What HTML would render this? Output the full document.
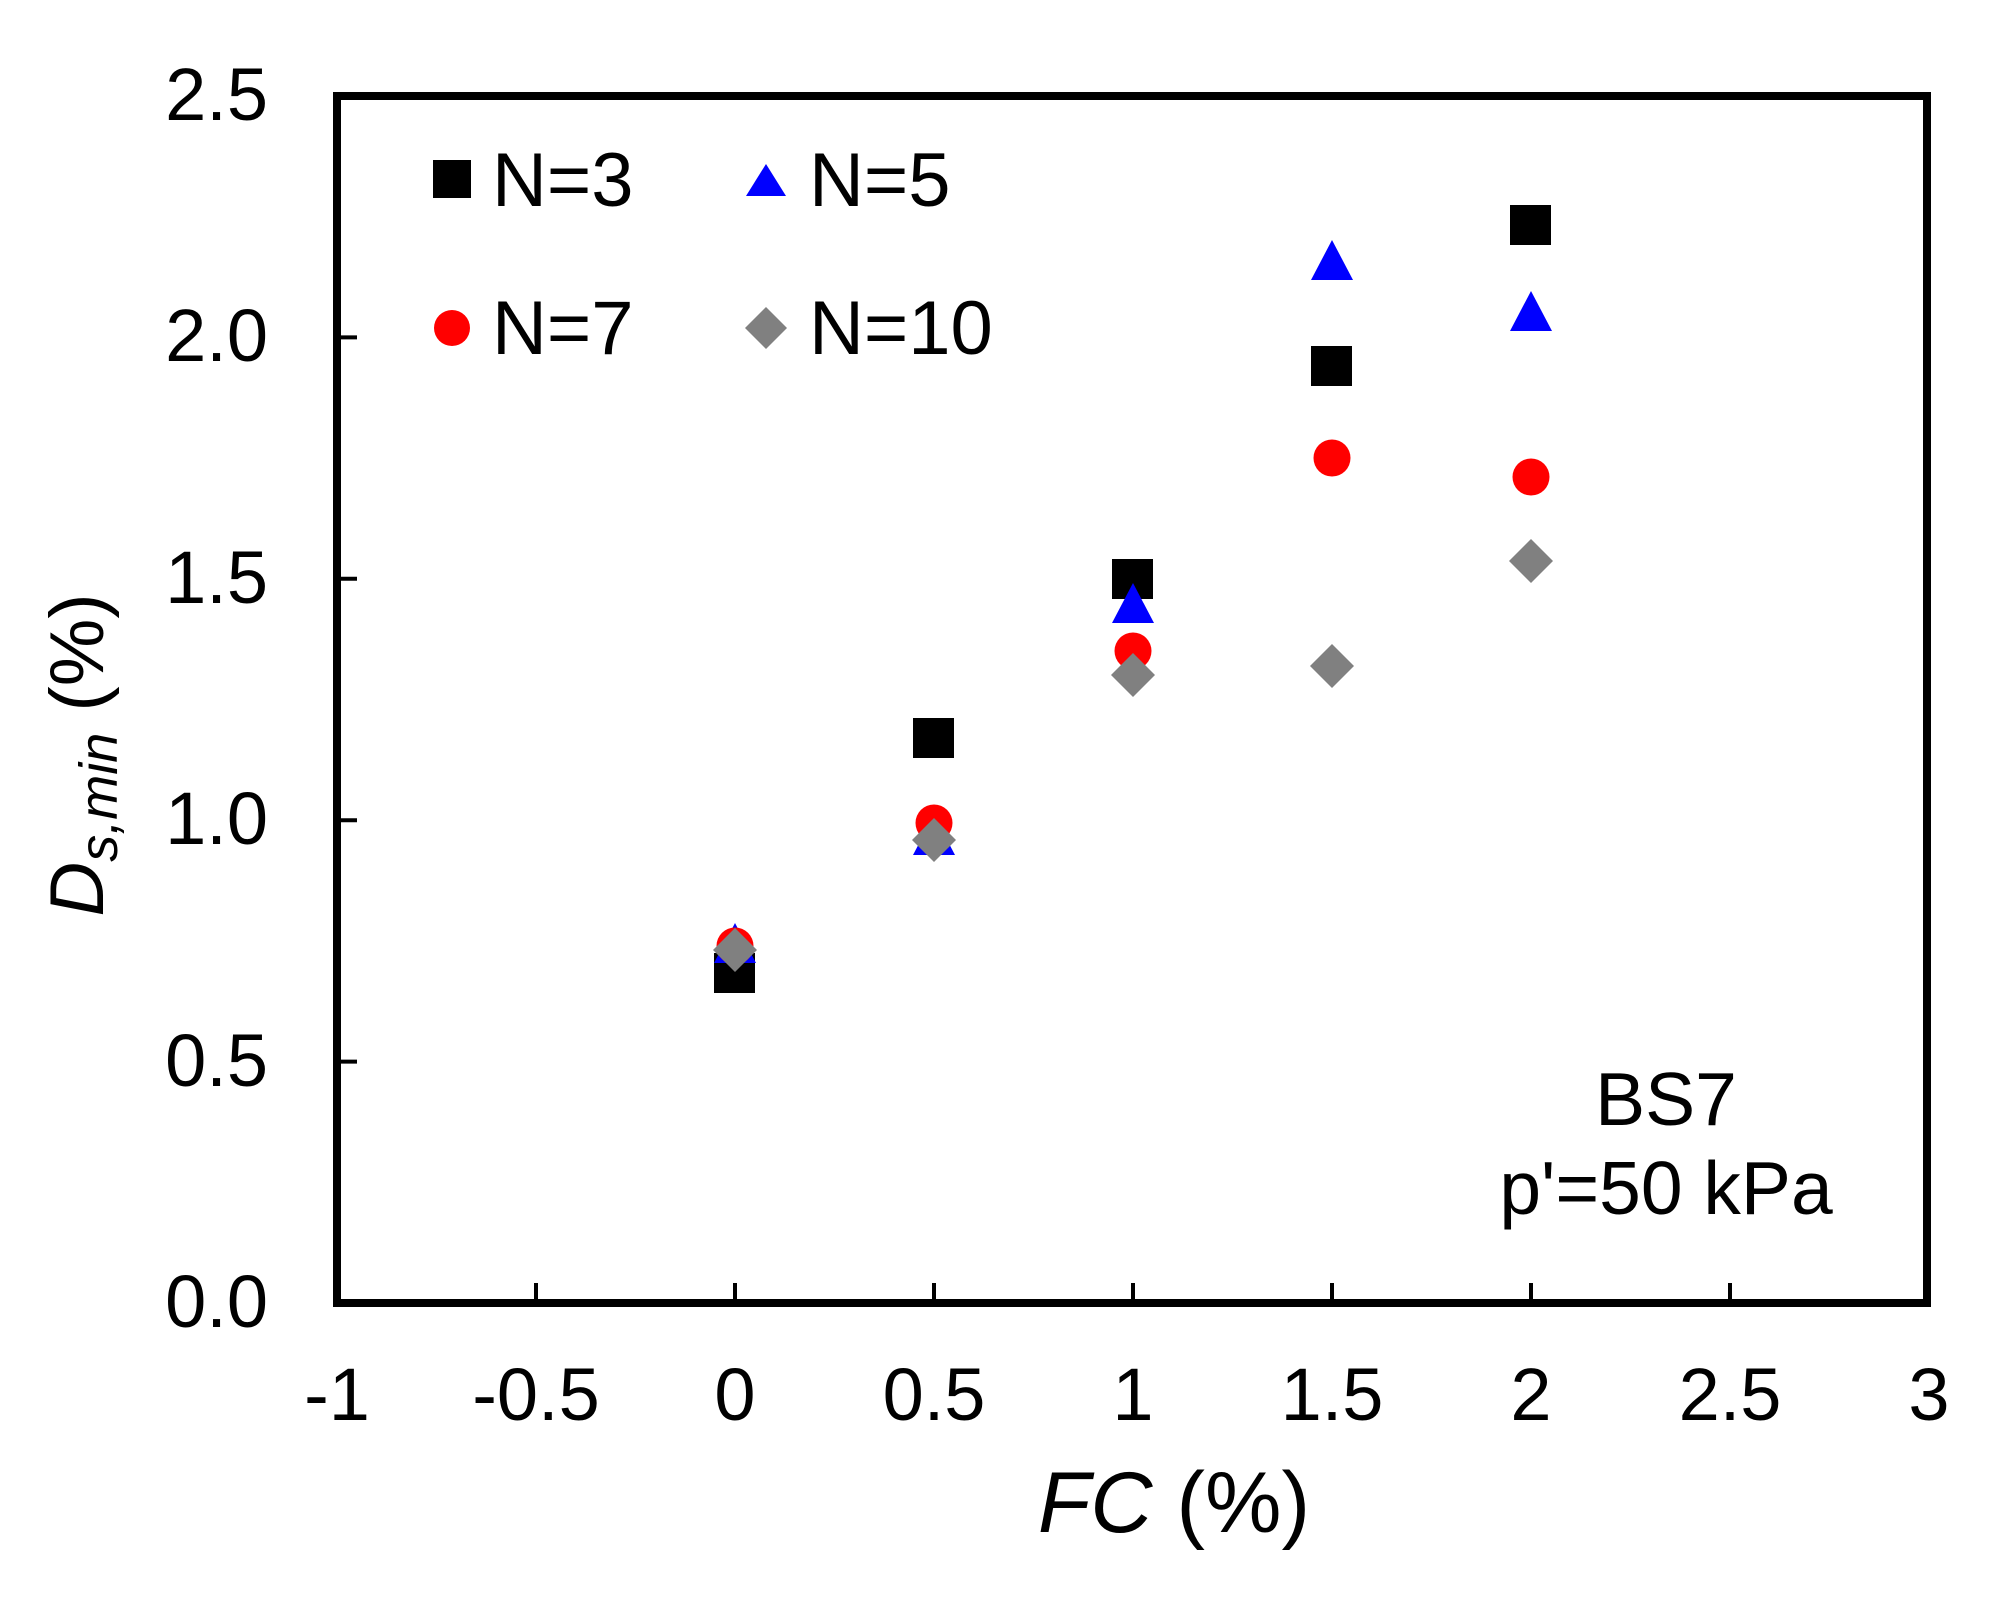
<!DOCTYPE html>
<html><head><meta charset="utf-8"><style>html,body{margin:0;padding:0;background:#fff}svg{display:block}</style></head>
<body>
<svg xmlns="http://www.w3.org/2000/svg" width="2008" height="1604" viewBox="0 0 2008 1604" font-family="'Liberation Sans', Arial, sans-serif">
<rect width="2008" height="1604" fill="#fff"/>
<g stroke="#000" stroke-width="4">
<line x1="536" y1="1303" x2="536" y2="1283"/>
<line x1="735" y1="1303" x2="735" y2="1283"/>
<line x1="934" y1="1303" x2="934" y2="1283"/>
<line x1="1133" y1="1303" x2="1133" y2="1283"/>
<line x1="1332" y1="1303" x2="1332" y2="1283"/>
<line x1="1531" y1="1303" x2="1531" y2="1283"/>
<line x1="1730" y1="1303" x2="1730" y2="1283"/>
<line x1="337" y1="1061.6" x2="357" y2="1061.6"/>
<line x1="337" y1="820.2" x2="357" y2="820.2"/>
<line x1="337" y1="578.8" x2="357" y2="578.8"/>
<line x1="337" y1="337.4" x2="357" y2="337.4"/>
</g>
<rect x="337" y="96" width="1590" height="1207" fill="none" stroke="#000" stroke-width="8"/>
<g font-size="74" text-anchor="end" fill="#000">
<text x="268" y="1327">0.0</text>
<text x="268" y="1086">0.5</text>
<text x="268" y="844">1.0</text>
<text x="268" y="603">1.5</text>
<text x="268" y="361">2.0</text>
<text x="268" y="120">2.5</text>
</g>
<g font-size="74" text-anchor="middle" fill="#000">
<text x="337" y="1420">-1</text>
<text x="536" y="1420">-0.5</text>
<text x="735" y="1420">0</text>
<text x="934" y="1420">0.5</text>
<text x="1133" y="1420">1</text>
<text x="1332" y="1420">1.5</text>
<text x="1531" y="1420">2</text>
<text x="1730" y="1420">2.5</text>
<text x="1929" y="1420">3</text>
</g>
<text x="1174" y="1532" font-size="86" text-anchor="middle"><tspan font-style="italic">FC</tspan> (%)</text>
<text transform="translate(103,755) rotate(-90)" font-size="76" text-anchor="middle"><tspan font-style="italic">D</tspan><tspan font-style="italic" font-size="54" dy="14">s,min</tspan><tspan dy="-14"> (%)</tspan></text>
<text x="1666" y="1125" font-size="75" text-anchor="middle">BS7</text>
<text x="1666" y="1214" font-size="75" text-anchor="middle">p'=50 kPa</text>
<rect x="433" y="160" width="38" height="38" fill="#000"/>
<text x="492" y="206" font-size="76">N=3</text>
<polygon points="766,164 786,196 746,196" fill="#0000ff"/>
<text x="809" y="206" font-size="76">N=5</text>
<circle cx="452" cy="328" r="18" fill="#ff0000"/>
<text x="492" y="354" font-size="76">N=7</text>
<polygon points="766,307 787,328 766,349 745,328" fill="#808080"/>
<text x="809" y="354" font-size="76">N=10</text>
<g fill="#000">
<rect x="714" y="953" width="41" height="40"/>
<rect x="913" y="718" width="41" height="40"/>
<rect x="1112" y="559" width="41" height="40"/>
<rect x="1311" y="346" width="41" height="40"/>
<rect x="1510" y="205" width="41" height="40"/>
</g>
<g fill="#0000ff">
<polygon points="735,923 756,963 714,963"/>
<polygon points="934,815 955,855 913,855"/>
<polygon points="1133,583 1154,623 1112,623"/>
<polygon points="1332,240 1353,280 1311,280"/>
<polygon points="1531,291 1552,331 1510,331"/>
</g>
<g fill="#ff0000">
<circle cx="735" cy="946" r="18.5"/>
<circle cx="934" cy="823" r="18.5"/>
<circle cx="1133" cy="651" r="18.5"/>
<circle cx="1332" cy="458" r="18.5"/>
<circle cx="1531" cy="477" r="18.5"/>
</g>
<g fill="#808080">
<polygon points="735,928 757,950 735,972 713,950"/>
<polygon points="934,818 956,840 934,862 912,840"/>
<polygon points="1133,653 1155,675 1133,697 1111,675"/>
<polygon points="1332,644 1354,666 1332,688 1310,666"/>
<polygon points="1531,539 1553,561 1531,583 1509,561"/>
</g>
</svg>
</body></html>
